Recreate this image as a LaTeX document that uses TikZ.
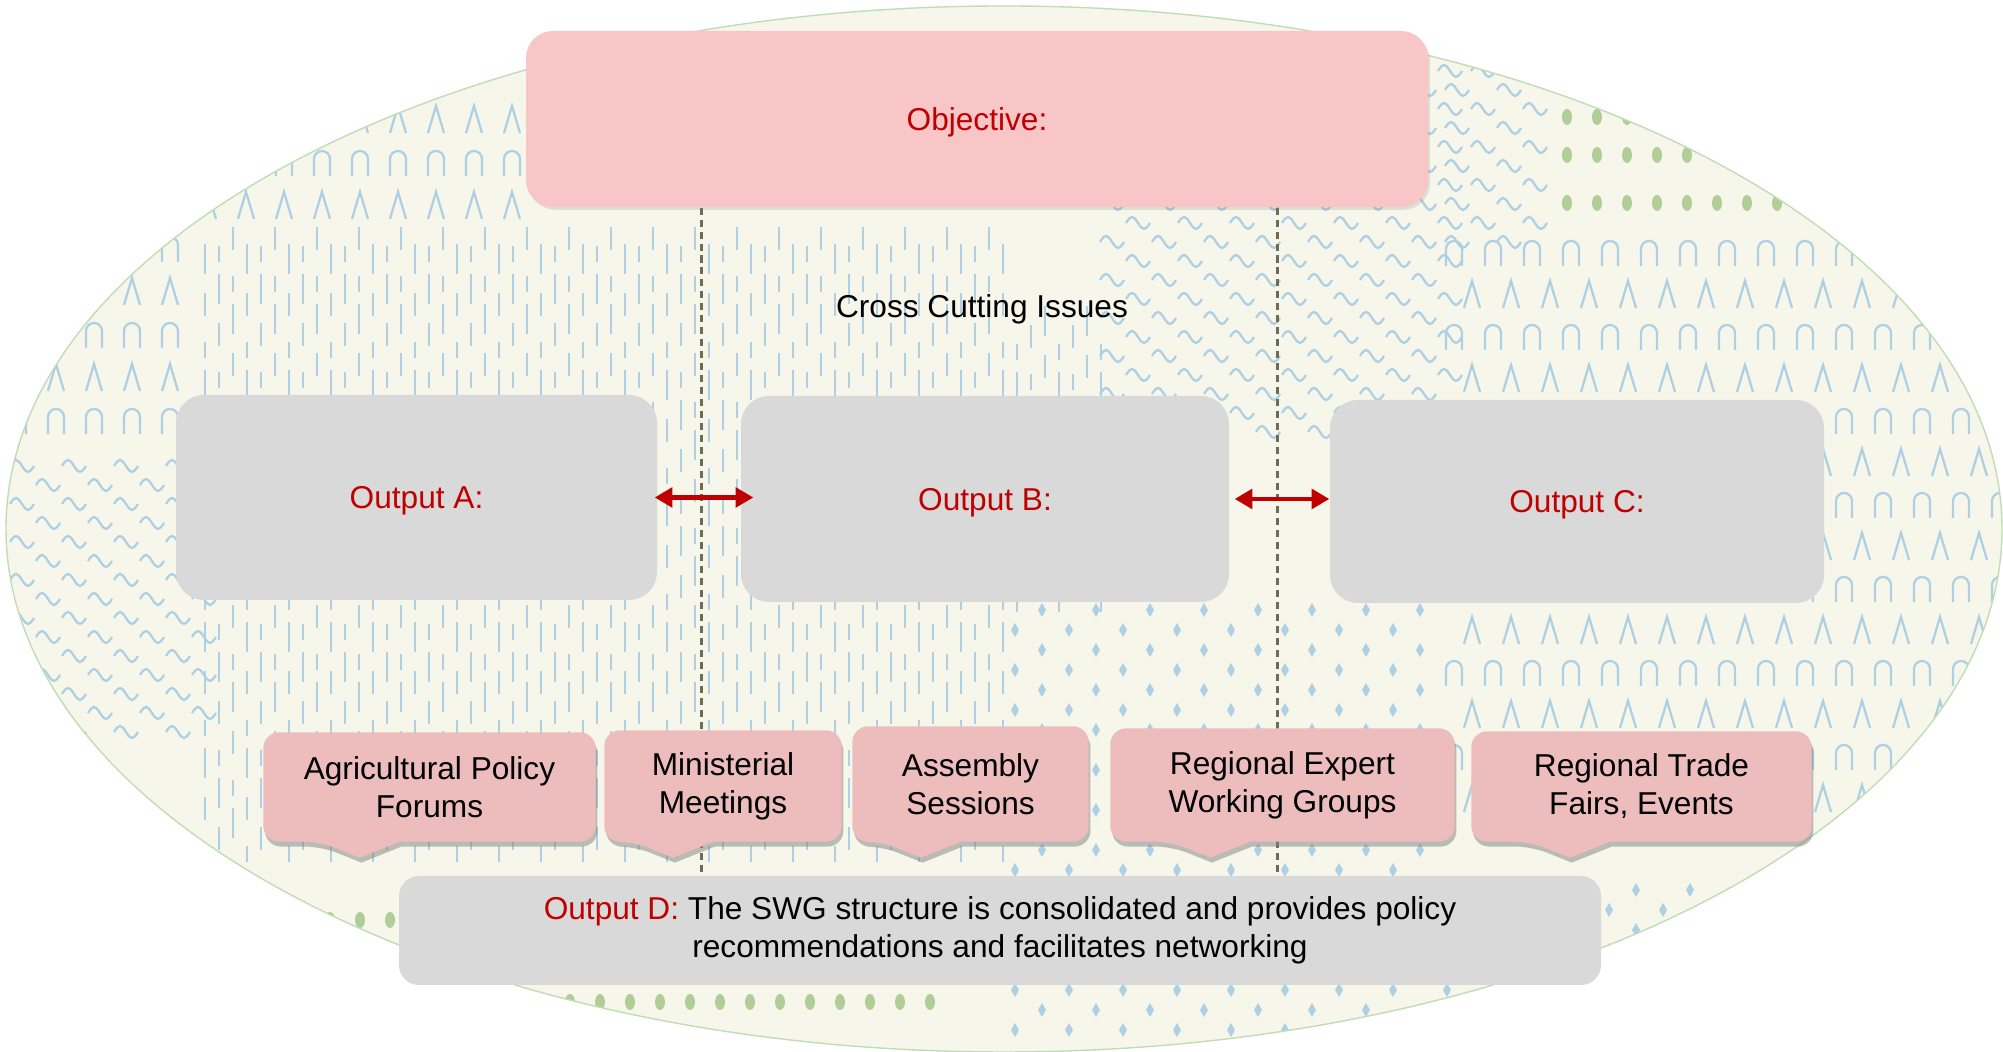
\documentclass[tikz,border=0pt]{standalone}
\usepackage{fontspec}
\setmainfont{Liberation Sans}
\usetikzlibrary{arrows.meta,calc,shadows}

\definecolor{bgcream}{HTML}{F6F7EA}
\definecolor{rimgreen}{HTML}{BFDDB6}
\definecolor{patblue}{HTML}{AFCFE3}
\definecolor{patgreen}{HTML}{B2CE98}
\definecolor{objpink}{HTML}{F8C6C6}
\definecolor{callpink}{HTML}{EDBDBD}
\definecolor{boxgray}{HTML}{D9D9D9}
\definecolor{outred}{HTML}{C00000}
\definecolor{cutgray}{HTML}{6E6C54}

\pgfdeclarelayer{paper}
\pgfdeclarelayer{background}
\pgfsetlayers{paper,background,main}

\tikzset{
  every node/.style={font=\fontsize{9}{10.8}\selectfont},
  patline/.style={draw=patblue, line width=0.65pt},
  objbox/.style={rectangle, rounded corners=2.7mm, fill=objpink, text=outred, text depth=0pt,
    minimum width=9.02cm, minimum height=1.76cm,
    drop shadow={shadow xshift=0.6pt, shadow yshift=-0.8pt, opacity=0.2}},
  outbox/.style={rectangle, rounded corners=2.8mm, fill=boxgray, text=outred},
  calltext/.style={rectangle, align=center, inner sep=0pt},
  callfill/.style={fill=callpink,
    drop shadow={shadow xshift=0.5pt, shadow yshift=-1.4pt, opacity=0.5}},
  cutline/.style={draw=cutgray, line width=0.85pt, dash pattern=on 2pt off 1.4pt},
  linkarrow/.style={draw=outred, line width=1.2pt, >={Triangle[length=5pt,width=5.5pt]}, <->}
}

% rounded box with a pointer under it
\newcommand\callshape[1]{%
  \fill[callfill]
    ([xshift=4mm]$(#1.south west)!0.29!(#1.south east)$)
    [rounded corners=1.6mm] -- (#1.south east) -- (#1.north east)
    -- (#1.north west) -- (#1.south west)
    -- ([xshift=-4mm]$(#1.south west)!0.29!(#1.south east)$)
    [sharp corners] -- ([yshift=-1.6mm]$(#1.south west)!0.29!(#1.south east)$)
    -- cycle;}

\begin{document}
\begin{tikzpicture}
\useasboundingbox (0,0) rectangle (20.03,10.52);

% textured oval
\begin{pgfonlayer}{paper}
\begin{scope}
  \clip (10.04,5.23) ellipse [x radius=9.98, y radius=5.23];
  \fill[bgcream] (0,0) rectangle (20.03,10.52);
  \foreach \i in {0,...,57}
    \foreach \j in {0,...,14}
      \draw[patline] ({2.05+0.14*\i},{1.9+0.42*\j+0.12*mod(\i,3)}) -- ++(0,{0.16+0.07*mod(\i+\j,3)});
  \foreach \i in {0,...,6}
    \foreach \j in {0,...,6}
      \draw[patline] ({10.17+0.14*\i},{4.4+0.42*\j+0.12*mod(\i,3)}) -- ++(0,{0.16+0.07*mod(\i+\j,3)});
  \foreach \k in {0,...,6} {
    \foreach \x in {14.46,14.85,...,20.0}
      \draw[patline] (\x,{7.86-0.84*\k}) -- ++(0,0.17) arc[start angle=180, end angle=0, radius=0.08] -- ++(0,-0.17);
    \foreach \x in {14.64,15.03,...,20.0}
      \draw[patline] (\x,{7.44-0.84*\k}) -- ++(0.08,0.27) -- ++(0.08,-0.27);
  }
  \foreach \k in {0,...,7} {
    \pgfmathsetmacro\xmax{\k<3 ? 5.05 : 1.95}
    \pgfmathsetmacro\yrow{9.19-0.43*\k}
    \foreach \x in {0.1,0.48,...,\xmax} {
      \ifodd\k
        \draw[patline] (\x,\yrow) -- ++(0,0.17) arc[start angle=180, end angle=0, radius=0.08] -- ++(0,-0.17);
      \else
        \draw[patline] (\x,\yrow) -- ++(0.08,0.27) -- ++(0.08,-0.27);
      \fi
    }
  }
  \foreach \i in {0,...,6}
    \foreach \j in {0,...,19}
      \draw[patline] ({11.0+0.52*\i+0.26*mod(\j,2)},{6.2+0.19*\j}) .. controls +(0.05,0.08) and +(-0.05,0.08) .. ++(0.12,0) .. controls +(0.05,-0.08) and +(-0.05,-0.08) .. ++(0.12,0);
  \foreach \i in {0,...,1}
    \foreach \j in {0,...,9}
      \draw[patline] ({14.45+0.52*\i+0.26*mod(\j,2)},{8.1+0.19*\j}) .. controls +(0.05,0.08) and +(-0.05,0.08) .. ++(0.12,0) .. controls +(0.05,-0.08) and +(-0.05,-0.08) .. ++(0.12,0);
  \foreach \i in {0,...,3}
    \foreach \j in {0,...,14}
      \draw[patline] ({0.1+0.52*\i+0.26*mod(\j,2)},{3.2+0.19*\j}) .. controls +(0.05,0.08) and +(-0.05,0.08) .. ++(0.12,0) .. controls +(0.05,-0.08) and +(-0.05,-0.08) .. ++(0.12,0);
  \foreach \i in {0,...,15}
    \foreach \j in {0,...,10}
      \fill[patblue] ({10.15+0.27*\i},{0.15+0.4*\j+0.2*mod(\i,2)}) -- ++(0.04,0.07) -- ++(-0.04,0.07) -- ++(-0.04,-0.07) -- cycle;
  \foreach \i in {16,...,27}
    \foreach \j in {0,...,3}
      \fill[patblue] ({10.15+0.27*\i},{0.15+0.4*\j+0.2*mod(\i,2)}) -- ++(0.04,0.07) -- ++(-0.04,0.07) -- ++(-0.04,-0.07) -- cycle;
  \foreach \x in {15.67,15.97,...,17.85}
    \foreach \y in {9.35,8.97,8.49}
      \fill[patgreen] (\x,\y) ellipse [x radius=0.05, y radius=0.08];
  \foreach \x in {3.0,3.3,...,9.4}
    \foreach \y in {1.32,0.5}
      \fill[patgreen] (\x,\y) ellipse [x radius=0.05, y radius=0.08];
\end{scope}
\draw[rimgreen, line width=0.4pt] (10.04,5.23) ellipse [x radius=9.98, y radius=5.23];
\end{pgfonlayer}

\node[objbox] (obj) at (9.77,9.33) {Objective:};
\node (cross) at (9.82,7.43) {Cross Cutting Issues};

\node[outbox, text depth=0pt, minimum width=4.81cm, minimum height=2.05cm] (outa) at (4.165,5.545) {Output A:};
\node[outbox, text depth=0pt, minimum width=4.88cm, minimum height=2.06cm] (outb) at (9.85,5.53) {Output B:};
\node[outbox, text depth=0pt, minimum width=4.94cm, minimum height=2.03cm] (outc) at (15.77,5.505) {Output C:};

\node[calltext, minimum width=3.31cm, minimum height=1.08cm] (forum) at (4.295,2.65) {Agricultural Policy\\Forums};
\node[calltext, minimum width=2.36cm, minimum height=1.10cm] (minis) at (7.23,2.66) {Ministerial\\Meetings};
\node[calltext, minimum width=2.35cm, minimum height=1.14cm] (assem) at (9.705,2.68) {Assembly\\Sessions};
\node[calltext, minimum width=3.43cm, minimum height=1.12cm] (expert) at (12.825,2.67) {Regional Expert\\Working Groups};
\node[calltext, minimum width=3.39cm, minimum height=1.09cm] (trade) at (16.415,2.655) {Regional Trade\\Fairs, Events};

\node[outbox, rounded corners=2mm, text=black, align=center, minimum width=12.02cm, minimum height=1.09cm] (outd) at (10.0,1.215)
  {\textcolor{outred}{Output D:} The SWG structure is consolidated and provides policy\\recommendations and facilitates networking};

\coordinate (cutl) at (7.01,0);
\coordinate (cutr) at (12.77,0);
\begin{pgfonlayer}{background}
  \draw[cutline] (obj.south -| cutl) -- (outd.north -| cutl);
  \draw[cutline] (obj.south -| cutr) -- (outd.north -| cutr);
  \callshape{forum}
  \callshape{minis}
  \callshape{assem}
  \callshape{expert}
  \callshape{trade}
\end{pgfonlayer}

\draw[linkarrow, shorten <=-0.3mm, shorten >=-1.3mm] (outa.east) -- (outa.east -| outb.west);
\draw[linkarrow, shorten <=0.5mm] (outb.east) -- (outb.east -| outc.west);
\end{tikzpicture}
\end{document}
